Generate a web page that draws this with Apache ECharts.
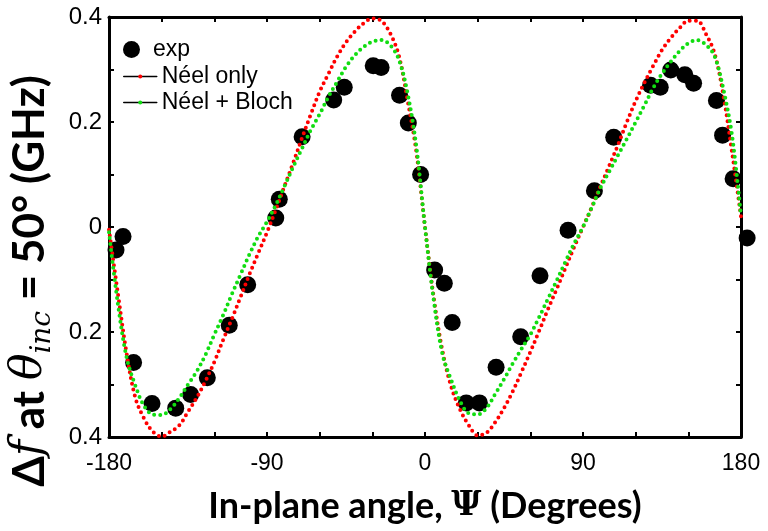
<!DOCTYPE html>
<html>
<head>
<meta charset="utf-8">
<script src="https://cdn.jsdelivr.net/npm/echarts@6/dist/echarts.min.js"></script>
<style>
html,body{margin:0;padding:0;background:#fff;}
#chart{width:768px;height:531px;}
</style>
</head>
<body>
<div id="chart"></div>
<script>
// ---- data ----
const angles = [-180,-175,-170,-165,-160,-155,-150,-145,-140,-135,-130,-125,-120,-115,-110,-105,-100,-95,-90,
  -85,-80,-75,-70,-65,-60,-55,-50,-45,-40,-35,-30,-25,-20,-15,-10,-5,0,
  5,10,15,20,25,30,35,40,45,50,55,60,65,70,75,80,85,90,
  95,100,105,110,115,120,125,130,135,140,145,150,155,160,165,170,175,180];

const neelOnly = [-0.005,-0.125,-0.24,-0.325,-0.365,-0.39,-0.399,-0.39,-0.378,-0.352,-0.325,-0.293,-0.257,-0.215,-0.175,-0.133,-0.09,-0.05,-0.01,
  0.033,0.078,0.123,0.17,0.215,0.258,0.292,0.325,0.352,0.372,0.388,0.397,0.393,0.37,0.328,0.243,0.145,0.0,
  -0.135,-0.237,-0.305,-0.348,-0.378,-0.397,-0.392,-0.372,-0.345,-0.313,-0.276,-0.238,-0.198,-0.157,-0.118,-0.078,-0.038,0.0,
  0.038,0.078,0.117,0.157,0.2,0.24,0.275,0.307,0.337,0.36,0.379,0.393,0.393,0.368,0.33,0.25,0.14,0.02];

const neelBloch = [-0.01,-0.145,-0.248,-0.302,-0.341,-0.357,-0.358,-0.347,-0.326,-0.3,-0.275,-0.243,-0.205,-0.168,-0.128,-0.09,-0.052,-0.018,0.01,
  0.042,0.078,0.115,0.15,0.185,0.215,0.248,0.277,0.305,0.327,0.343,0.353,0.356,0.347,0.32,0.256,0.155,0.0,
  -0.14,-0.243,-0.292,-0.332,-0.355,-0.357,-0.345,-0.318,-0.29,-0.26,-0.232,-0.205,-0.172,-0.137,-0.102,-0.066,-0.031,0.0,
  0.037,0.075,0.106,0.137,0.168,0.2,0.232,0.265,0.292,0.315,0.335,0.35,0.356,0.347,0.325,0.262,0.172,0.02];

const expAngle = [-176,-172,-166,-155.5,-142,-133.5,-124,-111.5,-101,-85,-83,-70,-52,-46,-29.5,-25,-14.5,-9.5,-2.5,
  5.5,11,15.5,23.5,31,40.5,54.5,65.5,81.5,96.5,107.5,128.5,134,140,148,153,166,169.5,175.5,183.5];
const expValue = [-0.044,-0.018,-0.258,-0.336,-0.345,-0.319,-0.287,-0.187,-0.11,0.017,0.053,0.172,0.242,0.266,0.307,0.304,0.251,0.198,0.1,
  -0.082,-0.107,-0.182,-0.335,-0.335,-0.267,-0.209,-0.093,-0.006,0.069,0.171,0.27,0.266,0.299,0.29,0.274,0.241,0.175,0.092,-0.021];

const xTicks = [-180,-90,0,90,180];
const seriesNames = ['exp','Néel only','Néel + Bloch'];

// ---- build chart ----
const zip = (a, b) => a.map((v, i) => [v, b[i]]);
const chart = echarts.init(document.getElementById('chart'), null, {renderer: 'canvas'});

const axisCommon = {
  axisLine: {show: true, onZero: false, lineStyle: {color: '#000', width: 3}},
  axisTick: {show: true, inside: true, length: 5, lineStyle: {color: '#000', width: 2}},
  splitLine: {show: false}
};
const legendText = {fontFamily: 'Liberation Sans, Arial, sans-serif', fontSize: 23, lineHeight: 23, color: '#000'};

const option = {
  animation: false,
  backgroundColor: '#fff',
  grid: {left: 106, right: 27, top: 17, bottom: 94},
  legend: [
    {
      data: [seriesNames[0]],
      orient: 'vertical', left: 118, top: 33,
      itemWidth: 33, itemHeight: 17, itemGap: 4,
      textStyle: legendText
    },
    {
      data: [
        {name: seriesNames[1], lineStyle: {color: '#000', width: 1.5, type: 'solid', opacity: 1}},
        {name: seriesNames[2], lineStyle: {color: '#000', width: 1.5, type: 'solid', opacity: 1}}
      ],
      orient: 'vertical', left: 118, top: 60,
      itemWidth: 33, itemHeight: 5, itemGap: 3,
      textStyle: legendText
    }
  ],
  xAxis: [
    Object.assign({}, axisCommon, {
      type: 'value', min: -180, max: 180, interval: 30, position: 'bottom',
      axisLabel: {
        show: true, margin: 15, color: '#000', fontSize: 23,
        fontFamily: 'Liberation Sans, Arial, sans-serif',
        formatter: v => (xTicks.indexOf(v) >= 0 ? String(v) : '')
      },
      name: '{b|In-plane angle, }{psi|Ψ}{b| (Degrees)}',
      nameLocation: 'middle', nameGap: 51,
      nameTextStyle: {
        rich: {
          b: {fontFamily: 'Lato, sans-serif', fontWeight: 'bold', fontSize: 36, color: '#000'},
          psi: {fontFamily: 'DejaVu Serif, serif', fontWeight: 'bold', fontSize: 33, color: '#000'}
        }
      }
    }),
    Object.assign({}, axisCommon, {
      type: 'value', min: -180, max: 180, interval: 30, position: 'top',
      axisLabel: {show: false}
    })
  ],
  yAxis: [
    Object.assign({}, axisCommon, {
      type: 'value', min: -0.4, max: 0.4, interval: 0.1, position: 'left',
      axisLabel: {
        show: true, margin: 7, color: '#000', fontSize: 24,
        fontFamily: 'Liberation Sans, Arial, sans-serif',
        formatter: v => (Math.round(v * 10) % 2 === 0 ? String(parseFloat(Math.abs(v).toFixed(1))) : '')
      },
      name: '{b|Δ}{m|f}{b| at }{m|θ}{s|inc}{b| = 50° (GHz)}',
      nameLocation: 'middle', nameGap: 52, nameRotate: 90,
      nameTextStyle: {
        padding: [0, 108, 0, 0],
        rich: {
          b: {fontFamily: 'Lato, sans-serif', fontWeight: 'bold', fontSize: 44, color: '#000'},
          m: {fontFamily: 'DejaVu Serif, serif', fontStyle: 'italic', fontSize: 44, color: '#000'},
          s: {fontFamily: 'DejaVu Serif, serif', fontStyle: 'italic', fontSize: 28, color: '#000', padding: [26, 0, 0, 0]}
        }
      }
    }),
    Object.assign({}, axisCommon, {
      type: 'value', min: -0.4, max: 0.4, interval: 0.1, position: 'right',
      axisLabel: {show: false}
    })
  ],
  series: [
    {
      name: seriesNames[0], type: 'scatter',
      data: zip(expAngle, expValue),
      symbol: 'circle', symbolSize: 17,
      itemStyle: {color: '#000', opacity: 1},
      clip: false, z: 2
    },
    {
      name: seriesNames[1], type: 'line',
      data: zip(angles, neelOnly),
      smooth: 0.35, symbol: 'circle', showSymbol: false,
      itemStyle: {color: '#ff0000'},
      lineStyle: {color: '#ff0000', width: 4, type: [0, 6], cap: 'round'},
      z: 3
    },
    {
      name: seriesNames[2], type: 'line',
      data: zip(angles, neelBloch),
      smooth: 0.35, symbol: 'circle', showSymbol: false,
      itemStyle: {color: '#11dd11'},
      lineStyle: {color: '#11dd11', width: 4, type: [0, 6], cap: 'round'},
      z: 4
    }
  ]
};
chart.setOption(option);
</script>
</body>
</html>
